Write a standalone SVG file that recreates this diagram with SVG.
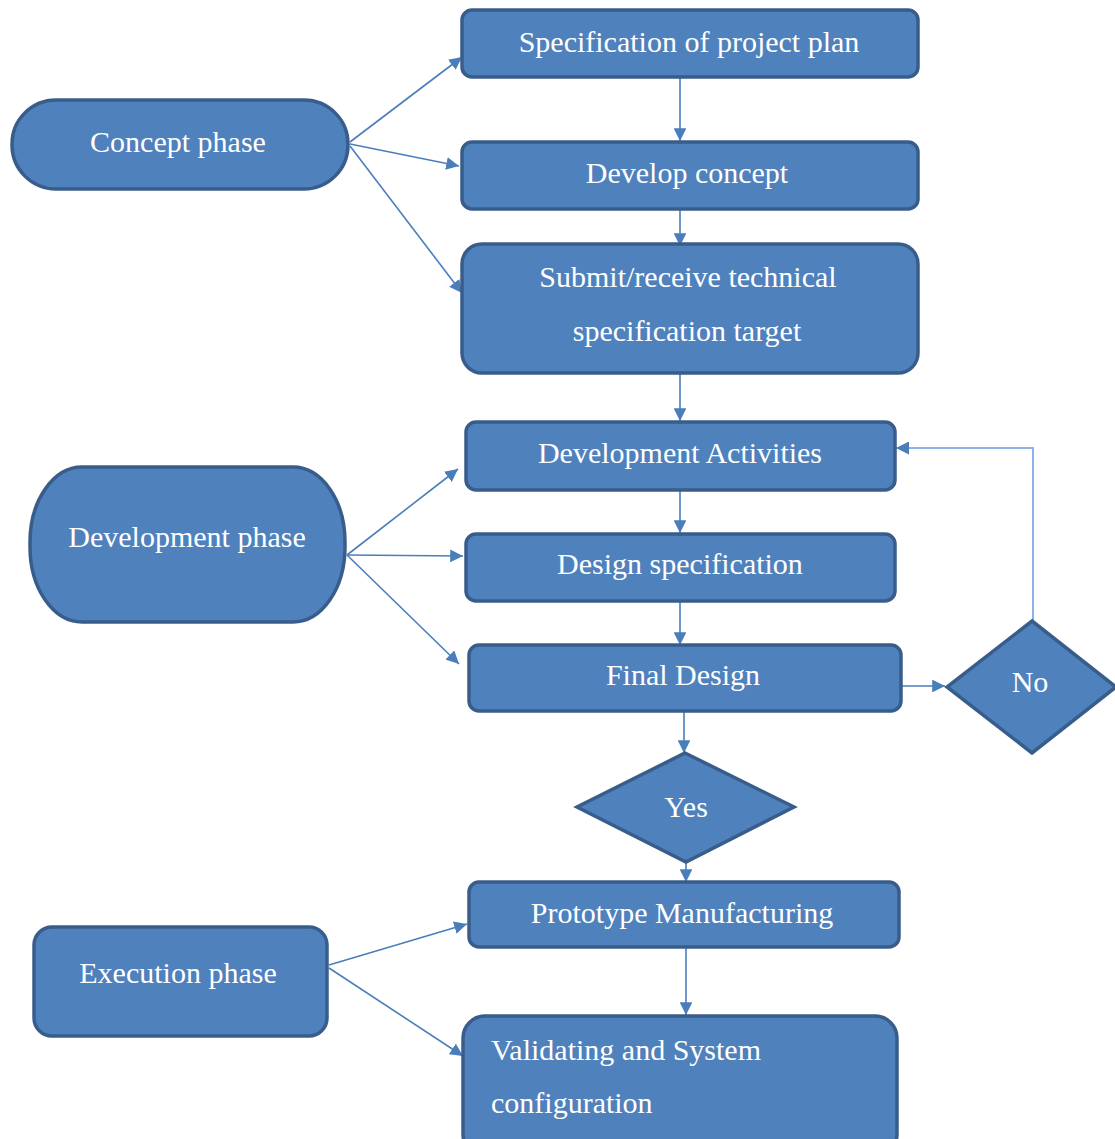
<svg xmlns="http://www.w3.org/2000/svg" width="1115" height="1139" viewBox="0 0 1115 1139">
<defs>
<style>
.n{fill:#4f81bd;stroke:#385d8a;stroke-width:3.5}
.t{font-family:"Liberation Serif","Times New Roman",serif;font-size:30px;fill:#ffffff;text-anchor:middle}
.tl{text-anchor:start}
.c{stroke:#4a7ebb;stroke-width:1.6;fill:none}
.fb{stroke:#8db3e2;stroke-width:2;fill:none}
</style>
<marker id="ah" viewBox="0 0 10 10" refX="10" refY="5" markerWidth="8" markerHeight="8" markerUnits="strokeWidth" orient="auto"><path d="M0,0 L10,5 L0,10 z" fill="#4a7ebb"/></marker>
<marker id="ah2" viewBox="0 0 10 10" refX="10" refY="5" markerWidth="6.5" markerHeight="6.5" markerUnits="strokeWidth" orient="auto"><path d="M0,0 L10,5 L0,10 z" fill="#4a7ebb"/></marker>
</defs>
<g id="connectors">
<line class="c" x1="350" y1="142" x2="462" y2="57" marker-end="url(#ah)"/>
<line class="c" x1="350" y1="144" x2="459" y2="166" marker-end="url(#ah)"/>
<line class="c" x1="350" y1="146" x2="462" y2="293" marker-end="url(#ah)"/>
<line class="c" x1="680" y1="78" x2="680" y2="141" marker-end="url(#ah)"/>
<line class="c" x1="680" y1="210" x2="680" y2="246" marker-end="url(#ah)"/>
<line class="c" x1="680" y1="373" x2="680" y2="421" marker-end="url(#ah)"/>
<line class="c" x1="347" y1="555" x2="458" y2="469" marker-end="url(#ah)"/>
<line class="c" x1="347" y1="555" x2="463" y2="556" marker-end="url(#ah)"/>
<line class="c" x1="347" y1="555" x2="459" y2="664" marker-end="url(#ah)"/>
<line class="c" x1="680" y1="490" x2="680" y2="533" marker-end="url(#ah)"/>
<line class="c" x1="680" y1="602" x2="680" y2="645" marker-end="url(#ah)"/>
<line class="c" x1="901" y1="686" x2="945" y2="686" marker-end="url(#ah)"/>
<polyline class="fb" points="1033,620 1033,448 896,448" marker-end="url(#ah2)"/>
<line class="c" x1="684" y1="712" x2="684" y2="753" marker-end="url(#ah)"/>
<line class="c" x1="686" y1="863" x2="686" y2="882" marker-end="url(#ah)"/>
<line class="c" x1="329" y1="965" x2="467" y2="924" marker-end="url(#ah)"/>
<line class="c" x1="329" y1="968" x2="463" y2="1056" marker-end="url(#ah)"/>
<line class="c" x1="686" y1="948" x2="686" y2="1015" marker-end="url(#ah)"/>
</g>
<g id="concept-phase">
<rect class="n" x="12" y="100" width="336" height="89" rx="44" ry="44"/>
<text class="t" x="178" y="152">Concept phase</text>
</g>
<g id="spec-project-plan">
<rect class="n" x="462" y="10" width="456" height="67" rx="10"/>
<text class="t" x="689" y="52">Specification of project plan</text>
</g>
<g id="develop-concept">
<rect class="n" x="462" y="142" width="456" height="67" rx="10"/>
<text class="t" x="687" y="183">Develop concept</text>
</g>
<g id="submit-spec">
<rect class="n" x="462" y="244" width="456" height="129" rx="20"/>
<text class="t" x="688" y="287">Submit/receive  technical</text>
<text class="t" x="687" y="341">specification target</text>
</g>
<g id="development-phase">
<rect class="n" x="30" y="467" width="315" height="155" rx="52" ry="75"/>
<text class="t" x="187" y="547">Development phase</text>
</g>
<g id="development-activities">
<rect class="n" x="466" y="422" width="429" height="68" rx="10"/>
<text class="t" x="680" y="463">Development Activities</text>
</g>
<g id="design-specification">
<rect class="n" x="466" y="534" width="429" height="67" rx="10"/>
<text class="t" x="680" y="574">Design specification</text>
</g>
<g id="final-design">
<rect class="n" x="469" y="645" width="432" height="66" rx="10"/>
<text class="t" x="683" y="685">Final Design</text>
</g>
<g id="no">
<polygon class="n" points="1032,621 1116,687 1032,753 947,687"/>
<text class="t" x="1030" y="692">No</text>
</g>
<g id="yes">
<polygon class="n" points="685,753 794,807 686,862 577,807"/>
<text class="t" x="686" y="817">Yes</text>
</g>
<g id="execution-phase">
<rect class="n" x="34" y="927" width="293" height="109" rx="18"/>
<text class="t" x="178" y="983">Execution phase</text>
</g>
<g id="prototype-manufacturing">
<rect class="n" x="469" y="882" width="430" height="65" rx="10"/>
<text class="t" x="682" y="923">Prototype Manufacturing</text>
</g>
<g id="validating">
<rect class="n" x="463" y="1016" width="434" height="140" rx="22"/>
<text class="t tl" x="491" y="1060">Validating and System</text>
<text class="t tl" x="491" y="1113">configuration</text>
</g>
</svg>
